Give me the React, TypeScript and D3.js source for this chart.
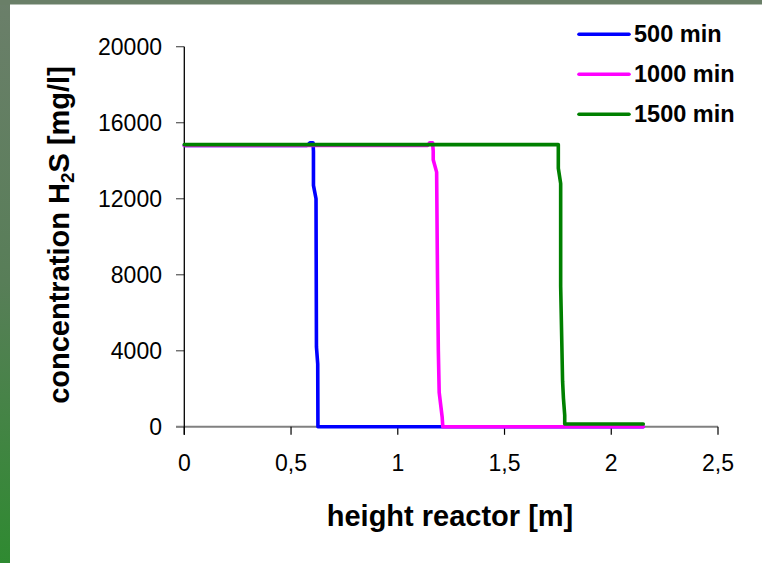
import React from "react";
import * as d3 from "d3";

const seriesNames = ["500 min", "1000 min", "1500 min"];
const seriesColors = ["#0000ff", "#ff00ff", "#008000"];

const blueX = [0, 0.575, 0.59, 0.603, 0.605, 0.605, 0.617, 0.619, 0.625, 0.626, 2.15];
const blueY = [14800, 14800, 14950, 14950, 14500, 12700, 12000, 4200, 3300, 0, 0];

const magentaX = [0, 1.14, 1.15, 1.163, 1.166, 1.166, 1.182, 1.186, 1.19, 1.194, 1.208, 1.211, 2.15];
const magentaY = [14800, 14800, 14950, 14950, 14500, 14050, 13400, 8000, 4000, 1800, 500, 0, 0];

const greenX = [0, 1.752, 1.752, 1.763, 1.763, 1.772, 1.776, 1.782, 1.782, 2.15];
const greenY = [14850, 14850, 13600, 12800, 7400, 2400, 1500, 600, 150, 150];

const xTicks = [0, 0.5, 1, 1.5, 2, 2.5];
const xTickLabels = ["0", "0,5", "1", "1,5", "2", "2,5"];
const yTicks = [0, 4000, 8000, 12000, 16000, 20000];

const W = 762;
const H = 563;

export default function App() {
  const x = d3.scaleLinear().domain([0, 2.5]).range([184.3, 718]);
  const y = d3.scaleLinear().domain([0, 20000]).range([426.8, 46.7]);
  const line = d3
    .line<[number, number]>()
    .x((d) => x(d[0]))
    .y((d) => y(d[1]));

  const series = [
    blueX.map((v, i) => [v, blueY[i]] as [number, number]),
    magentaX.map((v, i) => [v, magentaY[i]] as [number, number]),
    greenX.map((v, i) => [v, greenY[i]] as [number, number]),
  ];

  const font = "'Liberation Sans', Arial, sans-serif";

  return (
    <svg
      width={W}
      height={H}
      style={{ position: "absolute", left: 0, top: 0, display: "block" }}
      fontFamily={font}
    >
      <defs>
        <linearGradient id="frameGrad" x1="0" y1="0" x2="0" y2="1">
          <stop offset="0" stopColor="#6b7f6a" />
          <stop offset="0.5" stopColor="#587e58" />
          <stop offset="1" stopColor="#2f8a31" />
        </linearGradient>
      </defs>
      <rect x={0} y={0} width={W} height={H} fill="url(#frameGrad)" />
      <rect x={0} y={0} width={W} height={5} fill="#6a7f68" />
      <rect x={10} y={4.5} width={W - 10} height={H - 4.5} fill="#ffffff" />

      {/* y ticks */}
      {yTicks.map((t) => (
        <g key={"yt" + t}>
          <line x1={176} x2={184.3} y1={y(t)} y2={y(t)} stroke="#555" strokeWidth={1.2} />
          <text x={162} y={y(t) + 8} textAnchor="end" fontSize={23} fill="#000">
            {t}
          </text>
        </g>
      ))}
      {/* x axis */}
      <line x1={176} x2={718} y1={y(0)} y2={y(0)} stroke="#808080" strokeWidth={2} />
      {xTicks.map((t, i) => (
        <g key={"xt" + t}>
          <line x1={x(t)} x2={x(t)} y1={y(0)} y2={y(0) + 8} stroke="#000" strokeWidth={1.2} />
          <text x={x(t)} y={471} textAnchor="middle" fontSize={23} fill="#000">
            {xTickLabels[i]}
          </text>
        </g>
      ))}
      {/* y axis */}
      <line x1={184.3} x2={184.3} y1={y(20000)} y2={y(0) + 8} stroke="#000" strokeWidth={1.3} />

      {/* series */}
      {series.map((s, i) => (
        <path
          key={"s" + i}
          d={line(s) || ""}
          fill="none"
          stroke={seriesColors[i]}
          strokeWidth={3.6}
          strokeLinejoin="round"
          strokeLinecap="round"
        />
      ))}

      {/* legend */}
      {seriesNames.map((n, i) => (
        <g key={"lg" + i}>
          <line
            x1={579}
            x2={629}
            y1={34.3 + i * 40}
            y2={34.3 + i * 40}
            stroke={seriesColors[i]}
            strokeWidth={3.6}
            strokeLinecap="round"
          />
          <text x={634} y={41.8 + i * 40} fontSize={23.5} fontWeight="bold" fill="#000">
            {n}
          </text>
        </g>
      ))}

      {/* axis titles */}
      <text x={450} y={526} textAnchor="middle" fontSize={29} fontWeight="bold" fill="#000">
        height reactor [m]
      </text>
      <text
        transform="translate(69,235) rotate(-90)"
        textAnchor="middle"
        fontSize={29}
        fontWeight="bold"
        fill="#000"
      >
        <tspan>concentration H</tspan>
        <tspan fontSize={19} dy={5}>2</tspan>
        <tspan dy={-5}>S [mg/l]</tspan>
      </text>
    </svg>
  );
}
